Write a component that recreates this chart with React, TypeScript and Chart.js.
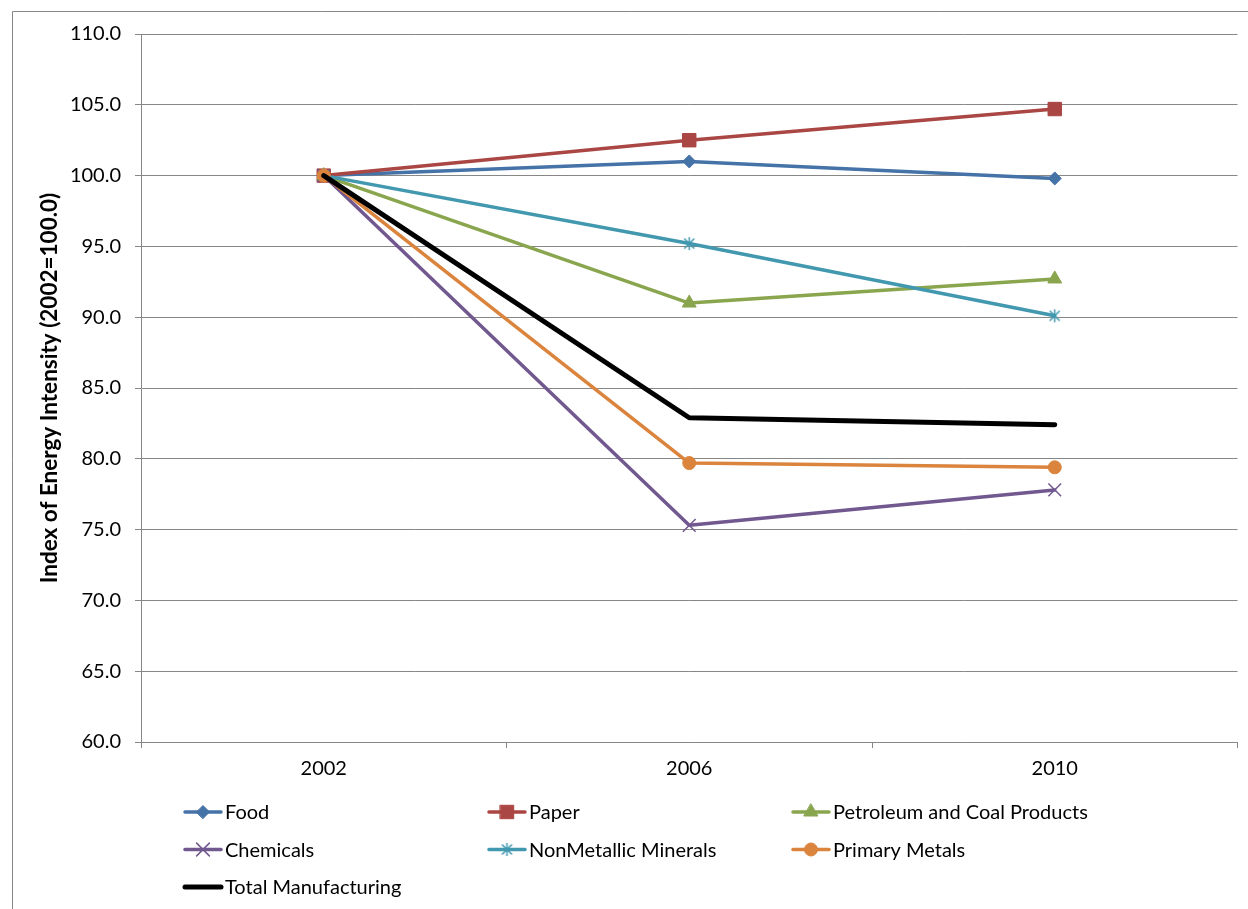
import { useEffect, useRef } from 'react';
import { Chart, registerables } from 'chart.js';
import { drawPoint } from 'chart.js/helpers';

Chart.register(...registerables);

// Index of energy intensity by manufacturing sub-sector, 2002 = 100.0
const years = ['2002', '2006', '2010'];
const food = [100.0, 101.0, 99.8];
const paper = [100.0, 102.5, 104.7];
const petroleum = [100.0, 91.0, 92.7];
const chemicals = [100.0, 75.3, 77.8];
const nonMetallic = [100.0, 95.2, 90.1];
const primaryMetals = [100.0, 79.7, 79.4];
const totalManufacturing = [100.0, 82.9, 82.4];

const yTicks = { min: 60, max: 110, step: 5 };

const FONT = 'Lato';
const GRID = '#878787';

function asterisk(color: string): HTMLCanvasElement {
  const c = document.createElement('canvas');
  c.width = 15;
  c.height = 15;
  const g = c.getContext('2d')!;
  g.strokeStyle = color;
  g.lineWidth = 1.5;
  g.beginPath();
  g.moveTo(7.5, 1);
  g.lineTo(7.5, 14);
  g.moveTo(2.5, 2.5);
  g.lineTo(12.5, 12.5);
  g.moveTo(12.5, 2.5);
  g.lineTo(2.5, 12.5);
  g.stroke();
  return c;
}

type Series = {
  label: string;
  data: number[];
  color: string;
  width: number;
  pointStyle: any;
  radius: number;
  pointBorder: number;
};

export default function App() {
  const ref = useRef<HTMLCanvasElement | null>(null);

  useEffect(() => {
    if (!ref.current) return;

    const series: Series[] = [
      { label: 'Food', data: food, color: '#4572A7', width: 3.5, pointStyle: 'rectRot', radius: 6.5, pointBorder: 1 },
      { label: 'Paper', data: paper, color: '#AA4643', width: 3.5, pointStyle: 'rect', radius: 9.5, pointBorder: 1 },
      { label: 'Petroleum and Coal Products', data: petroleum, color: '#89A54E', width: 3.5, pointStyle: 'triangle', radius: 8, pointBorder: 1 },
      { label: 'Chemicals', data: chemicals, color: '#71588F', width: 3.5, pointStyle: 'crossRot', radius: 9, pointBorder: 1.5 },
      { label: 'NonMetallic Minerals', data: nonMetallic, color: '#4198AF', width: 3.5, pointStyle: asterisk('#4198AF'), radius: 7, pointBorder: 1.5 },
      { label: 'Primary Metals', data: primaryMetals, color: '#DB843D', width: 3.5, pointStyle: 'circle', radius: 6.5, pointBorder: 1 },
      { label: 'Total Manufacturing', data: totalManufacturing, color: '#000000', width: 5, pointStyle: false, radius: 0, pointBorder: 0 },
    ];

    const framePlugin = {
      id: 'frameAndLegend',
      beforeDraw(chart: Chart) {
        const ctx = chart.ctx;
        ctx.save();
        ctx.fillStyle = '#ffffff';
        ctx.fillRect(0, 0, chart.width, chart.height);
        ctx.strokeStyle = GRID;
        ctx.lineWidth = 1;
        ctx.beginPath();
        ctx.moveTo(12.5, chart.height);
        ctx.lineTo(12.5, 11.5);
        ctx.lineTo(chart.width, 11.5);
        ctx.stroke();
        ctx.restore();
      },
      afterDraw(chart: Chart) {
        const ctx = chart.ctx;
        ctx.save();
        ctx.font = `20px ${FONT}`;
        ctx.textBaseline = 'middle';
        ctx.textAlign = 'left';
        series.forEach((s, i) => {
          const col = i % 3;
          const row = Math.floor(i / 3);
          const x0 = 184 + col * 304;
          const y = 812 + row * 37.5;
          ctx.strokeStyle = s.color;
          ctx.lineWidth = s.width;
          ctx.lineCap = 'round';
          ctx.beginPath();
          ctx.moveTo(x0 + 1, y);
          ctx.lineTo(x0 + 37, y);
          ctx.stroke();
          if (s.pointStyle) {
            ctx.fillStyle = s.color;
            ctx.strokeStyle = s.color;
            ctx.lineWidth = s.pointBorder;
            drawPoint(ctx, { pointStyle: s.pointStyle, radius: s.radius, borderWidth: s.pointBorder, rotation: 0 } as any, x0 + 19, y);
          }
          ctx.fillStyle = '#000000';
          ctx.fillText(s.label, x0 + 41, y + 1);
        });
        ctx.restore();
      },
    };

    const chart = new Chart(ref.current, {
      type: 'line',
      data: {
        labels: years,
        datasets: series.map((s, i) => ({
          label: s.label,
          data: s.data,
          borderColor: s.color,
          backgroundColor: s.color,
          borderWidth: s.width,
          borderCapStyle: 'round',
          borderJoinStyle: 'round',
          pointStyle: s.pointStyle,
          pointRadius: s.radius,
          pointBorderWidth: s.pointBorder,
          pointBackgroundColor: s.color,
          pointBorderColor: s.color,
          tension: 0,
          fill: false,
          order: series.length - i,
        })),
      },
      options: {
        responsive: false,
        animation: false,
        events: [],
        layout: { padding: { top: 34, right: 10, left: 0, bottom: 0 } },
        plugins: {
          legend: { display: false },
          tooltip: { enabled: false },
        },
        scales: {
          x: {
            offset: true,
            grid: { drawOnChartArea: false, drawTicks: true, tickLength: 6, color: GRID, offset: true },
            border: { color: GRID, width: 1 },
            ticks: { color: '#000', font: { family: FONT, size: 20 }, padding: 9, maxRotation: 0 },
            afterFit: (s: any) => {
              s.height = 167;
            },
          },
          y: {
            min: yTicks.min,
            max: yTicks.max,
            grid: { color: GRID, tickLength: 6, lineWidth: 1 },
            border: { color: GRID, width: 1 },
            ticks: {
              stepSize: yTicks.step,
              color: '#000',
              font: { family: FONT, size: 20 },
              padding: 14,
              callback: (v: any) => Number(v).toFixed(1),
            },
            title: {
              display: true,
              text: 'Index of Energy Intensity (2002=100.0)',
              color: '#000',
              font: { family: FONT, size: 22.5, weight: 'bold' },
              padding: { top: 36.5, bottom: 0 },
            },
            afterFit: (s: any) => {
              s.width = 141;
            },
          },
        },
      } as any,
      plugins: [framePlugin],
    });

    return () => chart.destroy();
  }, []);

  return (
    <div style={{ position: 'absolute', left: 0, top: 0, width: 1248, height: 909, background: '#fff' }}>
      <canvas ref={ref} width={1248} height={909} style={{ display: 'block' }} />
    </div>
  );
}
